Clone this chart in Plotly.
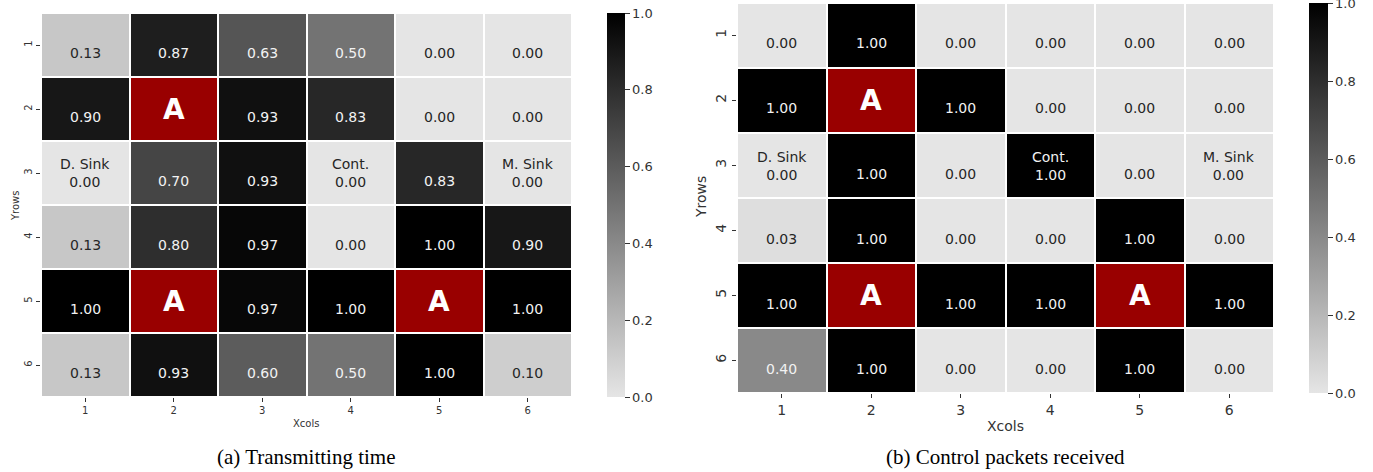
import plotly.graph_objects as go

# Grid coordinates
cols = [1, 2, 3, 4, 5, 6]
rows = [1, 2, 3, 4, 5, 6]

# Panel (a): transmitting time (None marks attacker cells)
time_vals = [
    [0.13, 0.87, 0.63, 0.50, 0.00, 0.00],
    [0.90, None, 0.93, 0.83, 0.00, 0.00],
    [0.00, 0.70, 0.93, 0.00, 0.83, 0.00],
    [0.13, 0.80, 0.97, 0.00, 1.00, 0.90],
    [1.00, None, 0.97, 1.00, None, 1.00],
    [0.13, 0.93, 0.60, 0.50, 1.00, 0.10],
]

# Panel (b): control packets received
ctrl_vals = [
    [0.00, 1.00, 0.00, 0.00, 0.00, 0.00],
    [1.00, None, 1.00, 0.00, 0.00, 0.00],
    [0.00, 1.00, 0.00, 1.00, 0.00, 0.00],
    [0.03, 1.00, 0.00, 0.00, 1.00, 0.00],
    [1.00, None, 1.00, 1.00, None, 1.00],
    [0.40, 1.00, 0.00, 0.00, 1.00, 0.00],
]

# Node roles written above the value
node_labels = {(3, 1): "D. Sink", (3, 4): "Cont.", (3, 6): "M. Sink"}
attacker_label = "A"

captions = ["(a) Transmitting time", "(b) Control packets received"]
axis_x_title = "Xcols"
axis_y_title = "Yrows"
cbar_ticks = [0.0, 0.2, 0.4, 0.6, 0.8, 1.0]

LIGHT = 229  # grey level at value 0
GREYS = [[0.0, "rgb(229,229,229)"], [1.0, "rgb(0,0,0)"]]
RED = [[0.0, "#990000"], [1.0, "#990000"]]
FONT = "DejaVu Sans"
W, H = 1373, 472

fig = go.Figure()


def text_colour(v):
    g = LIGHT * (1 - v) / 255.0
    lin = ((g + 0.055) / 1.055) ** 2.4 if g > 0.04045 else g / 12.92
    return "#262626" if lin > 0.408 else "#f2f2f2"


def px(x):
    return x / W


def py(y):
    return 1 - y / H


panels = [
    dict(vals=time_vals, xa="x", ya="y", xd=[px(41), px(572)],
         yd=[py(397), py(13)], cb_x=px(607), cb_th=18,
         tick=10, title=10, cb_font=13, gap=2,
         xt=(306, 423), yt=(16, 206), cap=(306, 457)),
    dict(vals=ctrl_vals, xa="x2", ya="y2", xd=[px(737), px(1274)],
         yd=[py(393), py(3)], cb_x=px(1309), cb_th=19,
         tick=14, title=14, cb_font=13, gap=2,
         xt=(1005, 426), yt=(701, 197), cap=(1005, 457)),
]

annotations = []
for i, p in enumerate(panels):
    vals = p["vals"]
    attack = [[1 if v is None else None for v in r] for r in vals]
    fig.add_trace(go.Heatmap(
        z=vals, x=cols, y=rows, xaxis=p["xa"], yaxis=p["ya"],
        colorscale=GREYS, zmin=0, zmax=1, xgap=p["gap"], ygap=p["gap"],
        hoverinfo="skip",
        colorbar=dict(
            x=p["cb_x"], xanchor="left", xref="paper", thickness=p["cb_th"],
            thicknessmode="pixels", lenmode="fraction", xpad=0, ypad=0,
            len=p["yd"][1] - p["yd"][0], y=p["yd"][1], yanchor="top",
            outlinewidth=0, ticks="outside", ticklen=5, tickwidth=1,
            tickcolor="#333", tickvals=cbar_ticks, ticklabeloverflow="allow",
            ticktext=[f"{t:.1f}" for t in cbar_ticks],
            tickfont=dict(family=FONT, size=p["cb_font"], color="#333"),
        ),
    ))
    fig.add_trace(go.Heatmap(
        z=attack, x=cols, y=rows, xaxis=p["xa"], yaxis=p["ya"],
        colorscale=RED, zmin=0, zmax=1, xgap=p["gap"], ygap=p["gap"],
        showscale=False, hoverinfo="skip",
    ))

    for r_i, r in enumerate(rows):
        for c_i, c in enumerate(cols):
            v = vals[r_i][c_i]
            if v is None:
                annotations.append(dict(
                    x=c, y=r, xref=p["xa"], yref=p["ya"], text=f"<b>{attacker_label}</b>",
                    showarrow=False, font=dict(family=FONT, size=28, color="white"),
                ))
                continue
            col = text_colour(v)
            lab = node_labels.get((r, c))
            if lab:
                txt = f"{lab}<br>{v:.2f}"
                shift = 0
            else:
                txt = f"{v:.2f}"
                shift = -8
            annotations.append(dict(
                x=c, y=r, xref=p["xa"], yref=p["ya"], text=txt, showarrow=False,
                yshift=shift, font=dict(family=FONT, size=14, color=col),
            ))

    # caption and axis titles
    annotations.append(dict(
        x=px(p["cap"][0]), y=py(p["cap"][1]), xref="paper", yref="paper",
        xanchor="center", yanchor="middle", text=captions[i], showarrow=False,
        font=dict(family="Liberation Serif", size=21, color="black"),
    ))
    annotations.append(dict(
        x=px(p["xt"][0]), y=py(p["xt"][1]), xref="paper", yref="paper",
        xanchor="center", yanchor="middle", text=axis_x_title, showarrow=False,
        font=dict(family=FONT, size=p["title"], color="#333"),
    ))
    annotations.append(dict(
        x=px(p["yt"][0]), y=py(p["yt"][1]), xref="paper", yref="paper",
        xanchor="center", yanchor="middle", text=axis_y_title, showarrow=False,
        textangle=-90, font=dict(family=FONT, size=p["title"], color="#333"),
    ))

axis_common = dict(showgrid=False, zeroline=False, showline=False, ticks="outside",
                   ticklen=4, tickwidth=1, tickcolor="#333")

fig.update_layout(
    width=W, height=H, margin=dict(l=0, r=0, t=0, b=0),
    paper_bgcolor="white", plot_bgcolor="white",
    annotations=annotations,
    xaxis=dict(domain=panels[0]["xd"], anchor="y", tickvals=cols,
               tickfont=dict(family=FONT, size=panels[0]["tick"], color="#333"),
               range=[0.5, 6.5], **axis_common),
    yaxis=dict(domain=panels[0]["yd"], anchor="x", tickvals=rows, tickangle=-90,
               tickfont=dict(family=FONT, size=panels[0]["tick"], color="#333"),
               range=[6.5, 0.5], **axis_common),
    xaxis2=dict(domain=panels[1]["xd"], anchor="y2", tickvals=cols,
                tickfont=dict(family=FONT, size=panels[1]["tick"], color="#333"),
                range=[0.5, 6.5], **axis_common),
    yaxis2=dict(domain=panels[1]["yd"], anchor="x2", tickvals=rows, tickangle=-90,
                tickfont=dict(family=FONT, size=panels[1]["tick"], color="#333"),
                range=[6.5, 0.5], **axis_common),
)

fig.write_html("out.html")
